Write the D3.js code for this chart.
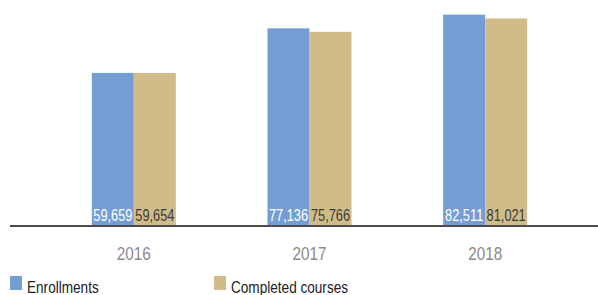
<!DOCTYPE html>
<html>
<head>
<meta charset="utf-8">
<script src="https://cdn.jsdelivr.net/npm/d3@7"></script>
<style>
  body { margin: 0; background: #fff; }
  svg text { font-family: "Liberation Sans", Arial, sans-serif; }
</style>
</head>
<body>
<div id="chart"></div>
<script>
// datos
const years = ["2016", "2017", "2018"];
const series = ["Enrollments", "Completed courses"];
const enrollments = [59659, 77136, 82511];
const completed = [59654, 75766, 81021];
const colors = ["#749dd3", "#d0bc89"];
const labelColors = ["#ffffff", "#3a3a3a"];

const width = 598, height = 295;
const baseY = 225;
const narrow = 0.8; // la fuente original es condensada

const svg = d3.select("#chart")
  .append("svg")
    .attr("width", width)
    .attr("height", height);

const data = years.map((y, i) => ({year: y, values: [enrollments[i], completed[i]]}));

// escalas
const x = d3.scaleBand()
  .domain(years)
  .range([46, 573]);

const xs = d3.scaleBand()
  .domain(series)
  .range([-42, 42]);

const y = d3.scaleLinear()
  .domain([0, 88250])
  .range([baseY, 0]);

const groups = svg.selectAll(".group")
  .data(data)
  .enter()
  .append("g")
    .attr("transform", d => `translate(${x(d.year) + x.bandwidth() / 2},0)`);

groups.selectAll("rect")
  .data(d => d.values.map((v, i) => ({key: series[i], value: v, i: i})))
  .enter()
  .append("rect")
    .attr("x", d => xs(d.key))
    .attr("width", xs.bandwidth())
    .attr("y", d => y(d.value))
    .attr("height", d => y(0) - y(d.value))
    .attr("fill", d => colors[d.i]);

groups.selectAll(".bar-label")
  .data(d => d.values.map((v, i) => ({key: series[i], value: v, i: i})))
  .enter()
  .append("text")
    .attr("class", "bar-label")
    .attr("transform", d => `translate(${xs(d.key) + xs.bandwidth() / 2},${baseY - 4}) scale(${narrow},1)`)
    .attr("text-anchor", "middle")
    .style("font-size", "16px")
    .attr("fill", d => labelColors[d.i])
    .text(d => d3.format(",")(d.value));

// eje x
const axis = svg.append("g")
  .attr("transform", `translate(0,${baseY + 1})`)
  .call(d3.axisBottom(x).tickSize(0).tickPadding(21));
axis.select(".domain").remove();
axis.selectAll("text")
  .attr("transform", "scale(0.85,1)")
  .style("font-size", "18px")
  .style("font-family", '"Liberation Sans", Arial, sans-serif')
  .attr("fill", "#8a8a8a");

svg.append("line")
  .attr("x1", 10).attr("x2", width)
  .attr("y1", baseY + 1).attr("y2", baseY + 1)
  .attr("stroke", "#111")
  .attr("stroke-width", 1.6);

// leyenda
const legendX = [10, 214];
const legend = svg.selectAll(".legend")
  .data(series)
  .enter()
  .append("g")
    .attr("transform", (d, i) => `translate(${legendX[i]},276)`);

legend.append("rect")
  .attr("width", 12)
  .attr("height", 14)
  .attr("fill", (d, i) => colors[i]);

legend.append("text")
  .attr("transform", `translate(17,17) scale(${narrow},1)`)
  .style("font-size", "17px")
  .attr("fill", "#222")
  .text(d => d);
</script>
</body>
</html>
